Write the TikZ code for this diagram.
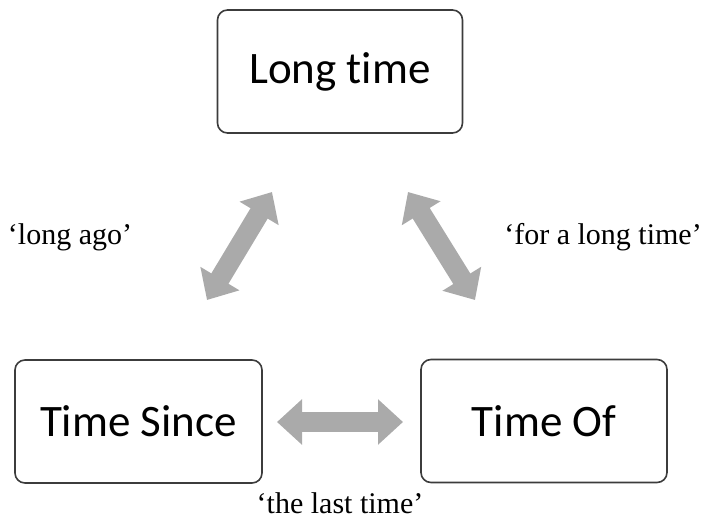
\documentclass[tikz,border=0pt]{standalone}
\usepackage{fontspec}
\setmainfont{Liberation Serif}
\newfontfamily\boxfont[Ligatures=NoCommon]{Carlito}
\usetikzlibrary{arrows.meta}
\definecolor{arrowgray}{RGB}{170,170,170}
\definecolor{boxline}{RGB}{60,60,60}
\tikzset{
  termbox/.style={draw=boxline, line width=1.6pt, rounded corners=10pt, minimum width=#1, minimum height=123pt, inner sep=0pt, font=\boxfont\fontsize{45}{54}\selectfont},
  bigarrow/.style={draw=arrowgray, line width=20pt, {Triangle[width=44pt,length=25pt]}-{Triangle[width=44pt,length=25pt]}},
  gloss/.style={font=\fontsize{30}{36}\selectfont, inner sep=0pt}
}
\begin{document}
\begin{tikzpicture}[x=1pt,y=-1pt]
\useasboundingbox (0,0) rectangle (702,522);
\node[termbox=245pt] (lt) at (340,71.5) {Long time};
\node[termbox=247pt] (ts) at (138.5,421.5) {Time Since};
\node[termbox=246pt] (to) at (544,421) {Time Of};
\coordinate (l1) at (207,300);
\coordinate (l2) at (272,192);
\coordinate (r1) at (408,192);
\coordinate (r2) at (475,300);
\coordinate (h1) at (277,422);
\coordinate (h2) at (403,422);
\draw[bigarrow] (l1) -- (l2);
\draw[bigarrow] (r1) -- (r2);
\draw[bigarrow] (h1) -- (h2);
\node[gloss] (g1) at (70,237) {‘long ago’};
\node[gloss] (g2) at (603,237) {‘for a long time’};
\node[gloss] (g3) at (340,503) {‘the last time’};
\end{tikzpicture}
\end{document}
